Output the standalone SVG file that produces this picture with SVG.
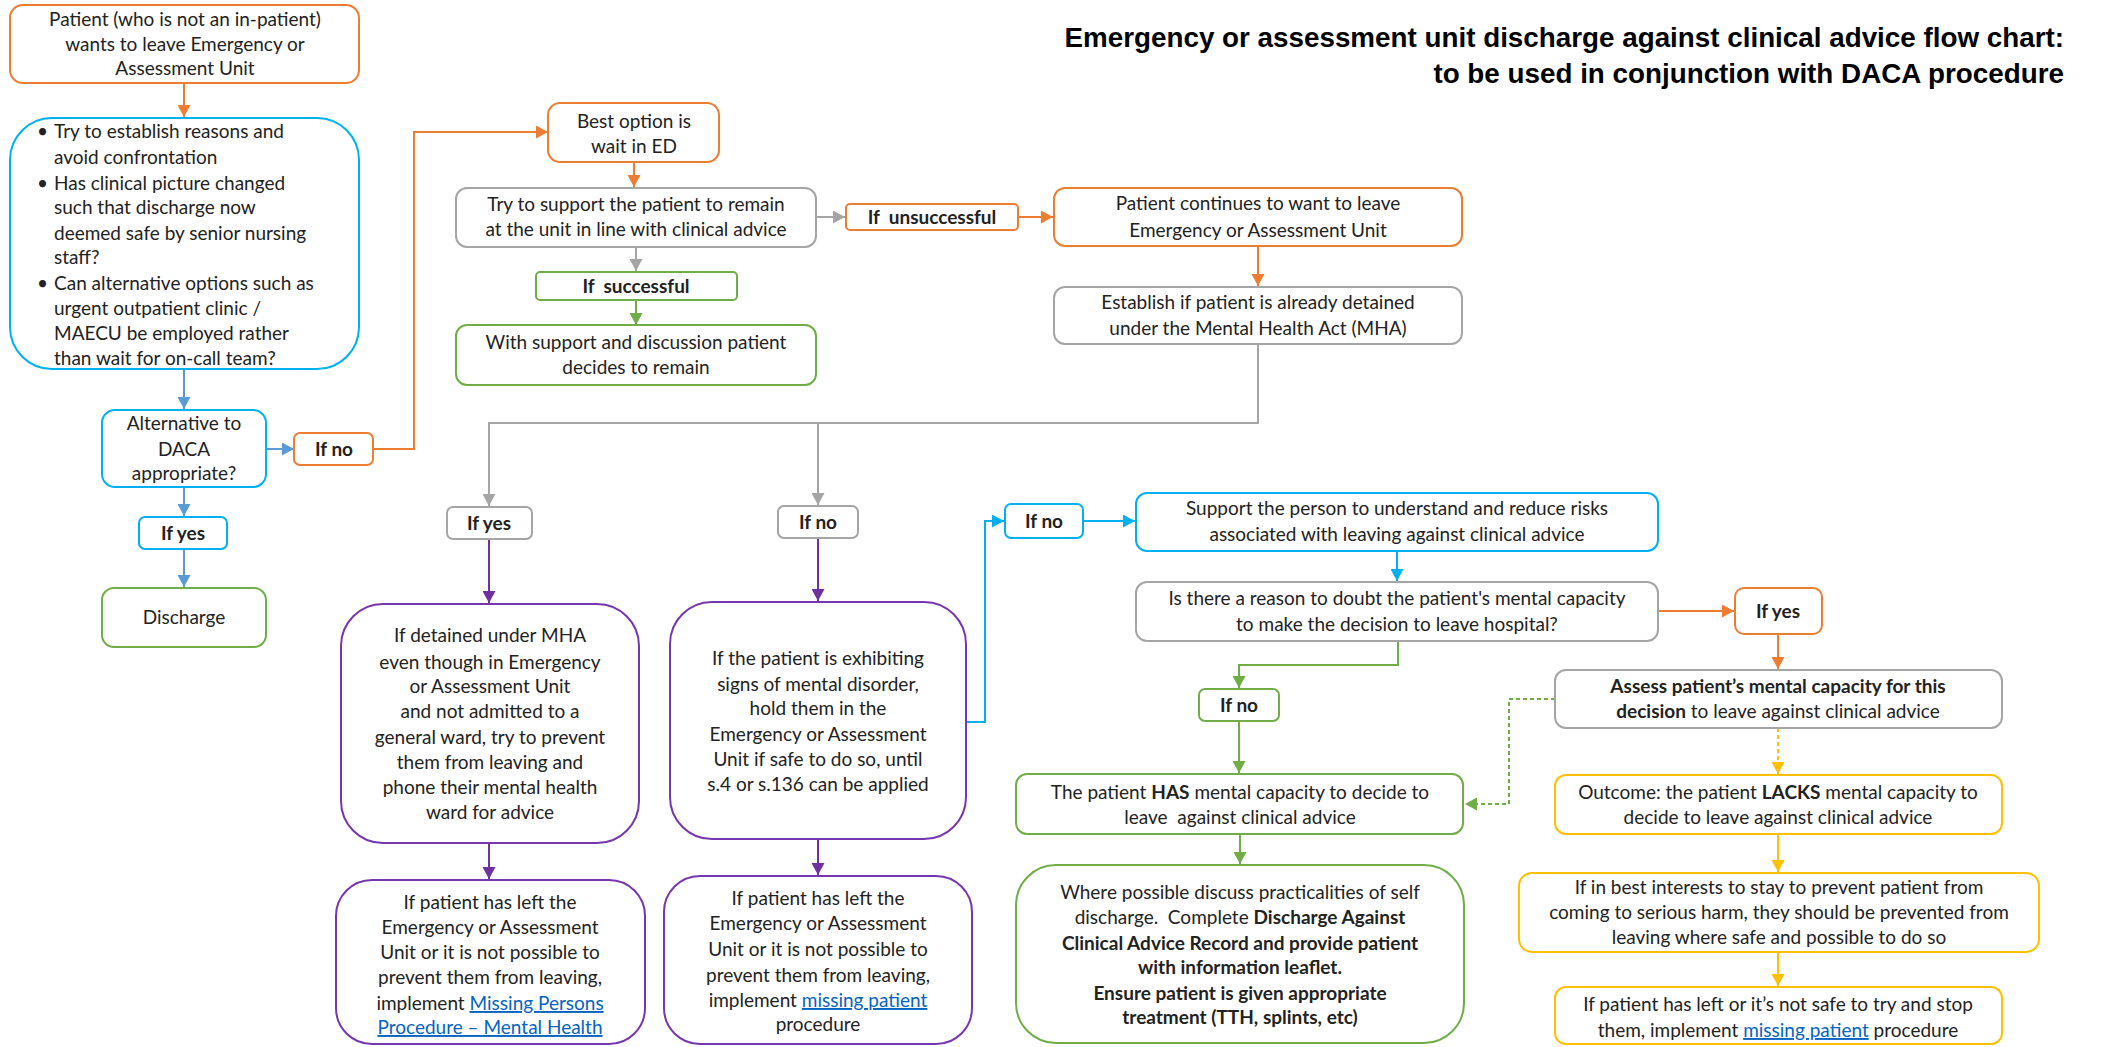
<svg xmlns="http://www.w3.org/2000/svg" width="2103" height="1047" viewBox="0 0 2103 1047">
<style>
.t{font-family:Lato,"Liberation Sans",sans-serif;font-size:19px;fill:#222}
.c{text-anchor:middle}
.b{font-weight:bold}
.ttl{font-family:"Liberation Sans",Arial,sans-serif;font-size:27.8px;font-weight:bold;fill:#000;text-anchor:end}
.box{fill:#fff;stroke-width:2}
.or{stroke:#ED7D31}.cy{stroke:#00B0F0}.gr{stroke:#A5A5A5}.gn{stroke:#70AD47}.pu{stroke:#7636B0}.ye{stroke:#FFC000}
.ln{fill:none;stroke-width:2}
.lnk{fill:#0563C1;text-decoration:underline}
.pre{white-space:pre}
</style>
<defs>
<marker id="a-or" markerUnits="userSpaceOnUse" markerWidth="12" markerHeight="13" viewBox="0 0 12 13" refX="12" refY="6.5" orient="auto"><path d="M0,0 L12,6.5 L0,13 z" fill="#ED7D31"/></marker>
<marker id="a-bl" markerUnits="userSpaceOnUse" markerWidth="12" markerHeight="13" viewBox="0 0 12 13" refX="12" refY="6.5" orient="auto"><path d="M0,0 L12,6.5 L0,13 z" fill="#5B9BD5"/></marker>
<marker id="a-cy" markerUnits="userSpaceOnUse" markerWidth="12" markerHeight="13" viewBox="0 0 12 13" refX="12" refY="6.5" orient="auto"><path d="M0,0 L12,6.5 L0,13 z" fill="#00B0F0"/></marker>
<marker id="a-gr" markerUnits="userSpaceOnUse" markerWidth="12" markerHeight="13" viewBox="0 0 12 13" refX="12" refY="6.5" orient="auto"><path d="M0,0 L12,6.5 L0,13 z" fill="#A5A5A5"/></marker>
<marker id="a-gn" markerUnits="userSpaceOnUse" markerWidth="12" markerHeight="13" viewBox="0 0 12 13" refX="12" refY="6.5" orient="auto"><path d="M0,0 L12,6.5 L0,13 z" fill="#70AD47"/></marker>
<marker id="a-pu" markerUnits="userSpaceOnUse" markerWidth="12" markerHeight="13" viewBox="0 0 12 13" refX="12" refY="6.5" orient="auto"><path d="M0,0 L12,6.5 L0,13 z" fill="#7030A0"/></marker>
<marker id="a-ye" markerUnits="userSpaceOnUse" markerWidth="12" markerHeight="13" viewBox="0 0 12 13" refX="12" refY="6.5" orient="auto"><path d="M0,0 L12,6.5 L0,13 z" fill="#FFC000"/></marker>
</defs>
<rect width="2103" height="1047" fill="#fff"/>

<g id="title">
<text class="ttl" x="2064" y="47">Emergency or assessment unit discharge against clinical advice flow chart:</text>
<text class="ttl" x="2064" y="83">to be used in conjunction with DACA procedure</text>
</g>

<g id="connectors">
<path class="ln" stroke="#ED7D31" d="M184,84 V117" marker-end="url(#a-or)"/>
<path class="ln" stroke="#5B9BD5" d="M184,370 V409" marker-end="url(#a-bl)"/>
<path class="ln" stroke="#5B9BD5" d="M266,449 H294" marker-end="url(#a-bl)"/>
<path class="ln" stroke="#5B9BD5" d="M184,487 V516" marker-end="url(#a-bl)"/>
<path class="ln" stroke="#5B9BD5" d="M184,549 V587" marker-end="url(#a-bl)"/>
<path class="ln" stroke="#ED7D31" d="M373,449 H414 V132 H548" marker-end="url(#a-or)"/>
<path class="ln" stroke="#ED7D31" d="M634,162 V187" marker-end="url(#a-or)"/>
<path class="ln" stroke="#A5A5A5" d="M636,248 V271" marker-end="url(#a-gr)"/>
<path class="ln" stroke="#70AD47" d="M636,300 V325" marker-end="url(#a-gn)"/>
<path class="ln" stroke="#A5A5A5" stroke-width="3" d="M816,217 H845" marker-end="url(#a-gr)"/>
<path class="ln" stroke="#ED7D31" stroke-width="3" d="M1018,217 H1053" marker-end="url(#a-or)"/>
<path class="ln" stroke="#ED7D31" d="M1258,246 V286" marker-end="url(#a-or)"/>
<path class="ln" stroke="#A5A5A5" d="M1258,344 V423 H489 V506" marker-end="url(#a-gr)"/>
<path class="ln" stroke="#A5A5A5" d="M818,423 V505" marker-end="url(#a-gr)"/>
<path class="ln" stroke="#7030A0" d="M489,539 V603" marker-end="url(#a-pu)"/>
<path class="ln" stroke="#7030A0" d="M818,538 V601" marker-end="url(#a-pu)"/>
<path class="ln" stroke="#7030A0" d="M489,843 V879" marker-end="url(#a-pu)"/>
<path class="ln" stroke="#7030A0" d="M818,839 V875" marker-end="url(#a-pu)"/>
<path class="ln" stroke="#00B0F0" d="M966,722 H985 V521 H1004" marker-end="url(#a-cy)"/>
<path class="ln" stroke="#00B0F0" d="M1083,521 H1135" marker-end="url(#a-cy)"/>
<path class="ln" stroke="#00B0F0" d="M1397,551 V581" marker-end="url(#a-cy)"/>
<path class="ln" stroke="#ED7D31" d="M1658,611 H1734" marker-end="url(#a-or)"/>
<path class="ln" stroke="#ED7D31" d="M1778,634 V669" marker-end="url(#a-or)"/>
<path class="ln" stroke="#FFC000" stroke-dasharray="4,3" d="M1778,728 V774" marker-end="url(#a-ye)"/>
<path class="ln" stroke="#FFC000" d="M1778,834 V872" marker-end="url(#a-ye)"/>
<path class="ln" stroke="#FFC000" d="M1778,952 V986" marker-end="url(#a-ye)"/>
<path class="ln" stroke="#70AD47" d="M1398,641 V665 H1239 V688" marker-end="url(#a-gn)"/>
<path class="ln" stroke="#70AD47" d="M1239,721 V773" marker-end="url(#a-gn)"/>
<path class="ln" stroke="#70AD47" d="M1240,834 V864" marker-end="url(#a-gn)"/>
<path class="ln" stroke="#70AD47" stroke-dasharray="4,3" d="M1555,699 H1509 V804 H1465" marker-end="url(#a-gn)"/>
</g>

<g id="n-start">
<rect class="box or" x="10" y="5" width="349" height="78" rx="13"/>
<text class="t c" x="185" y="26">Patient (who is not an in-patient)</text>
<text class="t c" x="185" y="51">wants to leave Emergency or</text>
<text class="t c" x="185" y="75">Assessment Unit</text>
</g>

<g id="n-establish-reasons">
<rect class="box cy" x="10" y="118" width="349" height="251" rx="42"/>
<text class="t" x="37" y="138">•</text><text class="t" x="54" y="138">Try to establish reasons and</text>
<text class="t" x="54" y="164">avoid confrontation</text>
<text class="t" x="37" y="190">•</text><text class="t" x="54" y="190">Has clinical picture changed</text>
<text class="t" x="54" y="214">such that discharge now</text>
<text class="t" x="54" y="240">deemed safe by senior nursing</text>
<text class="t" x="54" y="264">staff?</text>
<text class="t" x="37" y="290">•</text><text class="t" x="54" y="290">Can alternative options such as</text>
<text class="t" x="54" y="315">urgent outpatient clinic /</text>
<text class="t" x="54" y="340">MAECU be employed rather</text>
<text class="t" x="54" y="365">than wait for on-call team?</text>
</g>

<g id="n-alternative">
<rect class="box cy" x="102" y="410" width="164" height="77" rx="13"/>
<text class="t c" x="184" y="430">Alternative to</text>
<text class="t c" x="184" y="456">DACA</text>
<text class="t c" x="184" y="480">appropriate?</text>
</g>

<g id="n-alt-ifno">
<rect class="box or" x="294" y="433" width="79" height="32" rx="6"/>
<text class="t c b" x="334" y="456">If no</text>
</g>

<g id="n-alt-ifyes">
<rect class="box cy" x="139" y="517" width="88" height="32" rx="6"/>
<text class="t c b" x="183" y="540">If yes</text>
</g>

<g id="n-discharge">
<rect class="box gn" x="102" y="588" width="164" height="59" rx="12"/>
<text class="t c" x="184" y="624">Discharge</text>
</g>

<g id="n-best-option">
<rect class="box or" x="548" y="103" width="171" height="59" rx="12"/>
<text class="t c" x="634" y="128">Best option is</text>
<text class="t c" x="634" y="153">wait in ED</text>
</g>

<g id="n-try-support">
<rect class="box gr" x="456" y="188" width="360" height="59" rx="11"/>
<text class="t c" x="636" y="211">Try to support the patient to remain</text>
<text class="t c" x="636" y="236">at the unit in line with clinical advice</text>
</g>

<g id="n-if-successful">
<rect class="box gn" x="536" y="272" width="201" height="28" rx="4"/>
<text class="t c b pre" x="636" y="293">If  successful</text>
</g>

<g id="n-decides-remain">
<rect class="box gn" x="456" y="325" width="360" height="60" rx="11"/>
<text class="t c" x="636" y="349">With support and discussion patient</text>
<text class="t c" x="636" y="374">decides to remain</text>
</g>

<g id="n-if-unsuccessful">
<rect class="box or" x="846" y="204" width="172" height="26" rx="4"/>
<text class="t c b pre" x="932" y="224">If  unsuccessful</text>
</g>

<g id="n-continues">
<rect class="box or" x="1054" y="188" width="408" height="58" rx="11"/>
<text class="t c" x="1258" y="210">Patient continues to want to leave</text>
<text class="t c" x="1258" y="237">Emergency or Assessment Unit</text>
</g>

<g id="n-establish-mha">
<rect class="box gr" x="1054" y="287" width="408" height="57" rx="11"/>
<text class="t c" x="1258" y="309">Establish if patient is already detained</text>
<text class="t c" x="1258" y="335">under the Mental Health Act (MHA)</text>
</g>

<g id="n-mha-ifyes">
<rect class="box gr" x="447" y="507" width="85" height="32" rx="6"/>
<text class="t c b" x="489" y="530">If yes</text>
</g>

<g id="n-mha-ifno">
<rect class="box gr" x="778" y="506" width="80" height="32" rx="6"/>
<text class="t c b" x="818" y="529">If no</text>
</g>

<g id="n-detained">
<rect class="box pu" x="341" y="604" width="298" height="239" rx="42"/>
<text class="t c" x="490" y="642">If detained under MHA</text>
<text class="t c" x="490" y="669">even though in Emergency</text>
<text class="t c" x="490" y="693">or Assessment Unit</text>
<text class="t c" x="490" y="718">and not admitted to a</text>
<text class="t c" x="490" y="744">general ward, try to prevent</text>
<text class="t c" x="490" y="769">them from leaving and</text>
<text class="t c" x="490" y="794">phone their mental health</text>
<text class="t c" x="490" y="819">ward for advice</text>
</g>

<g id="n-mental-disorder">
<rect class="box pu" x="670" y="602" width="296" height="237" rx="42"/>
<text class="t c" x="818" y="665">If the patient is exhibiting</text>
<text class="t c" x="818" y="691">signs of mental disorder,</text>
<text class="t c" x="818" y="715">hold them in the</text>
<text class="t c" x="818" y="741">Emergency or Assessment</text>
<text class="t c" x="818" y="766">Unit if safe to do so, until</text>
<text class="t c" x="818" y="791">s.4 or s.136 can be applied</text>
</g>

<g id="n-left-mh">
<rect class="box pu" x="336" y="880" width="309" height="164" rx="36"/>
<text class="t c" x="490" y="909">If patient has left the</text>
<text class="t c" x="490" y="934">Emergency or Assessment</text>
<text class="t c" x="490" y="959">Unit or it is not possible to</text>
<text class="t c" x="490" y="984">prevent them from leaving,</text>
<text class="t c" x="490" y="1010">implement <tspan class="lnk">Missing Persons</tspan></text>
<text class="t c" x="490" y="1034"><tspan class="lnk">Procedure – Mental Health</tspan></text>
</g>

<g id="n-left-missing">
<rect class="box pu" x="664" y="876" width="308" height="168" rx="36"/>
<text class="t c" x="818" y="905">If patient has left the</text>
<text class="t c" x="818" y="930">Emergency or Assessment</text>
<text class="t c" x="818" y="956">Unit or it is not possible to</text>
<text class="t c" x="818" y="982">prevent them from leaving,</text>
<text class="t c" x="818" y="1007">implement <tspan class="lnk">missing patient</tspan></text>
<text class="t c" x="818" y="1031">procedure</text>
</g>

<g id="n-disorder-ifno">
<rect class="box cy" x="1005" y="504" width="78" height="34" rx="6"/>
<text class="t c b" x="1044" y="528">If no</text>
</g>

<g id="n-support-person">
<rect class="box cy" x="1136" y="493" width="522" height="58" rx="11"/>
<text class="t c" x="1397" y="515">Support the person to understand and reduce risks</text>
<text class="t c" x="1397" y="541">associated with leaving against clinical advice</text>
</g>

<g id="n-doubt">
<rect class="box gr" x="1136" y="582" width="522" height="59" rx="11"/>
<text class="t c" x="1397" y="605">Is there a reason to doubt the patient's mental capacity</text>
<text class="t c" x="1397" y="631">to make the decision to leave hospital?</text>
</g>

<g id="n-doubt-ifyes">
<rect class="box or" x="1735" y="588" width="87" height="46" rx="9"/>
<text class="t c b" x="1778" y="618">If yes</text>
</g>

<g id="n-assess">
<rect class="box gr" x="1555" y="670" width="447" height="58" rx="11"/>
<text class="t c b" x="1778" y="693">Assess patient’s mental capacity for this</text>
<text class="t c" x="1778" y="718"><tspan class="b">decision</tspan> to leave against clinical advice</text>
</g>

<g id="n-doubt-ifno">
<rect class="box gn" x="1199" y="689" width="80" height="32" rx="6"/>
<text class="t c b" x="1239" y="712">If no</text>
</g>

<g id="n-has-capacity">
<rect class="box gn" x="1016" y="774" width="447" height="60" rx="11"/>
<text class="t c" x="1240" y="799">The patient <tspan class="b">HAS</tspan> mental capacity to decide to</text>
<text class="t c pre" x="1240" y="824">leave  against clinical advice</text>
</g>

<g id="n-lacks-capacity">
<rect class="box ye" x="1555" y="775" width="447" height="59" rx="11"/>
<text class="t c" x="1778" y="799">Outcome: the patient <tspan class="b">LACKS</tspan> mental capacity to</text>
<text class="t c" x="1778" y="824">decide to leave against clinical advice</text>
</g>

<g id="n-self-discharge">
<rect class="box gn" x="1016" y="865" width="448" height="178" rx="40"/>
<text class="t c" x="1240" y="899">Where possible discuss practicalities of self</text>
<text class="t c pre" x="1240" y="924">discharge.  Complete <tspan class="b">Discharge Against</tspan></text>
<text class="t c b" x="1240" y="950">Clinical Advice Record and provide patient</text>
<text class="t c b" x="1240" y="974">with information leaflet.</text>
<text class="t c b" x="1240" y="1000">Ensure patient is given appropriate</text>
<text class="t c b" x="1240" y="1024">treatment (TTH, splints, etc)</text>
</g>

<g id="n-best-interests">
<rect class="box ye" x="1519" y="873" width="520" height="79" rx="13"/>
<text class="t c" x="1779" y="894">If in best interests to stay to prevent patient from</text>
<text class="t c" x="1779" y="919">coming to serious harm, they should be prevented from</text>
<text class="t c" x="1779" y="944">leaving where safe and possible to do so</text>
</g>

<g id="n-not-safe">
<rect class="box ye" x="1555" y="987" width="447" height="57" rx="11"/>
<text class="t c" x="1778" y="1011">If patient has left or it’s not safe to try and stop</text>
<text class="t c" x="1778" y="1037">them, implement <tspan class="lnk">missing patient</tspan> procedure</text>
</g>
</svg>
